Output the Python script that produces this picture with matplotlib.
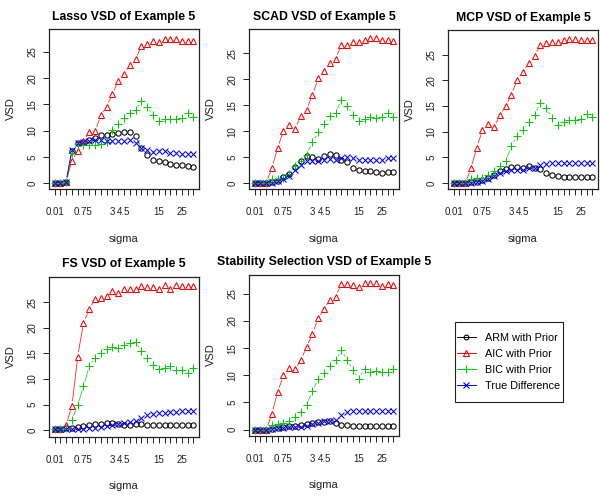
import numpy as np
import matplotlib
matplotlib.use("Agg")
import matplotlib.pyplot as plt
from matplotlib.lines import Line2D
from matplotlib.patches import Rectangle

plt.rcParams['font.family'] = ['Liberation Sans', 'DejaVu Sans']

sigma_idx = list(range(1, 26))
xtick_pos = [1, 6, 11, 13, 19, 23]
xtick_labels = ["0.01", "0.75", "3", "4.5", "15", "25"]
yticks = [0, 5, 10, 15, 20, 25]

series_names = ["ARM with Prior", "AIC with Prior", "BIC with Prior", "True Difference"]

lasso_arm = [0, 0, 0.2, 6.2, 7.7, 7.8, 8.3, 8.6, 9.2, 9.2, 9.3, 9.5, 9.7, 9.7, 9.0, 6.6, 5.4, 4.45, 4.2, 4.1, 3.7, 3.5, 3.4, 3.2, 3.0]
lasso_aic = [0, 0, 0.3, 4.3, 6.2, 8.0, 9.7, 9.9, 12.9, 14.6, 17.0, 19.5, 20.9, 22.5, 23.6, 26.2, 26.6, 27.1, 26.9, 27.4, 27.4, 27.4, 27.2, 27.2, 27.2]
lasso_bic = [0, 0, 0.3, 5.8, 7.4, 7.3, 7.2, 7.2, 7.5, 7.8, 10.1, 11.3, 12.4, 13.4, 13.9, 15.7, 14.6, 12.9, 11.8, 12.2, 12.2, 12.2, 12.4, 13.3, 12.6]
lasso_true = [0, 0, 0.3, 6.3, 7.7, 7.9, 8.1, 8.2, 8.2, 8.0, 8.0, 8.0, 8.1, 8.2, 7.6, 6.7, 6.3, 6.0, 6.1, 6.1, 5.8, 5.7, 5.6, 5.6, 5.6]

scad_arm = [0, 0, 0, 0.2, 0.4, 1.2, 1.8, 3.1, 4.2, 5.2, 5.0, 4.7, 5.2, 5.6, 5.4, 4.5, 4.0, 2.9, 2.6, 2.4, 2.3, 2.1, 2.0, 2.2, 2.1]
scad_aic = [0, 0, 0, 2.9, 6.8, 10.1, 11.1, 10.5, 12.9, 14.1, 17.0, 20.2, 21.6, 23.1, 24.0, 26.6, 26.6, 27.1, 27.1, 27.6, 27.9, 27.9, 27.6, 27.6, 27.4]
scad_bic = [0, 0, 0, 0.7, 0.7, 1.0, 1.7, 3.3, 4.2, 5.5, 7.9, 9.8, 11.3, 12.9, 13.6, 16.0, 14.9, 13.2, 11.9, 12.3, 12.7, 12.5, 12.7, 13.5, 12.7]
scad_true = [0, 0, 0, 0.1, 0.3, 0.8, 1.4, 2.6, 3.5, 4.2, 4.2, 4.2, 4.5, 4.7, 4.5, 4.9, 5.0, 4.9, 4.5, 4.5, 4.5, 4.5, 4.5, 4.9, 4.9]

mcp_arm = [0, 0, 0, 0.2, 0.3, 0.6, 1.0, 1.6, 2.3, 2.8, 3.1, 3.1, 3.0, 3.3, 2.85, 2.65, 1.9, 1.55, 1.35, 1.2, 1.15, 1.1, 1.1, 1.1, 1.1]
mcp_aic = [0, 0, 0, 2.85, 6.9, 10.3, 11.5, 10.9, 13.2, 15.0, 17.2, 20.1, 21.7, 23.3, 24.8, 26.9, 27.3, 27.5, 27.5, 27.8, 28.1, 28.0, 27.8, 27.9, 27.8]
mcp_bic = [0, 0, 0, 0.7, 0.9, 1.0, 1.6, 2.3, 3.3, 4.3, 7.2, 9.1, 10.3, 11.9, 13.3, 15.6, 14.6, 12.7, 11.4, 11.9, 12.2, 12.2, 12.4, 13.5, 12.8]
mcp_true = [0, 0, 0, 0.1, 0.2, 0.4, 0.8, 1.3, 1.9, 2.3, 2.5, 2.5, 2.6, 3.0, 2.9, 3.5, 3.7, 3.95, 3.95, 3.95, 3.95, 3.95, 3.95, 3.95, 3.95]

fs_arm = [0.2, 0.2, 0.4, 0.5, 0.6, 0.9, 1.0, 1.15, 1.2, 1.35, 1.35, 1.3, 1.0, 1.1, 1.2, 1.2, 1.1, 1.1, 1.1, 1.1, 1.1, 1.1, 1.1, 1.1, 1.1]
fs_aic = [0.25, 0.25, 1.0, 4.8, 14.4, 21.0, 23.6, 25.6, 25.8, 26.2, 27.1, 26.8, 27.6, 27.6, 27.6, 28.1, 28.0, 28.0, 27.6, 28.3, 27.6, 28.3, 28.1, 28.1, 28.1]
fs_bic = [0.2, 0.2, 0.5, 2.0, 4.9, 8.6, 12.5, 14.2, 15.0, 15.85, 16.2, 16.0, 16.7, 17.0, 17.3, 15.5, 14.2, 12.8, 12.0, 12.1, 12.6, 11.7, 11.7, 11.2, 12.1]
fs_true = [0.2, 0.2, 0.3, 0.3, 0.3, 0.3, 0.4, 0.5, 0.7, 0.8, 1.0, 1.15, 1.5, 1.7, 1.8, 2.5, 3.0, 3.15, 3.3, 3.4, 3.5, 3.6, 3.75, 3.75, 3.8]

stab_arm = [0, 0, 0, 0.1, 0.3, 0.4, 0.6, 0.7, 0.9, 1.1, 1.2, 1.35, 1.45, 1.5, 1.2, 0.9, 0.8, 0.7, 0.7, 0.7, 0.7, 0.7, 0.7, 0.7, 0.7]
stab_aic = [0, 0, 0, 2.9, 6.95, 10.0, 11.3, 11.1, 12.9, 15.2, 17.7, 20.5, 22.3, 23.9, 24.5, 26.8, 26.8, 26.6, 26.3, 27.0, 27.1, 27.0, 26.5, 26.8, 26.6]
stab_bic = [0, 0, 0, 0.85, 1.0, 1.2, 1.5, 2.25, 3.3, 4.6, 7.1, 9.4, 10.4, 11.7, 12.8, 14.6, 12.8, 11.0, 9.4, 11.2, 10.6, 10.8, 10.7, 10.7, 11.1]
stab_true = [0, 0, 0, 0.1, 0.2, 0.3, 0.4, 0.4, 0.5, 0.7, 1.0, 1.2, 1.5, 1.65, 1.8, 2.7, 3.2, 3.35, 3.35, 3.35, 3.35, 3.35, 3.35, 3.35, 3.35]

titles = ["Lasso VSD of Example 5", "SCAD VSD of Example 5", "MCP VSD of Example 5",
          "FS VSD of Example 5", "Stability Selection VSD of Example 5"]
panel_data = [
    (lasso_arm, lasso_aic, lasso_bic, lasso_true),
    (scad_arm, scad_aic, scad_bic, scad_true),
    (mcp_arm, mcp_aic, mcp_bic, mcp_true),
    (fs_arm, fs_aic, fs_bic, fs_true),
    (stab_arm, stab_aic, stab_bic, stab_true),
]

W, H = 600, 499
# panel boxes in pixels: left, top, right, bottom
boxes = [(49, 29, 199, 189), (249, 29, 399, 189), (448, 30, 598, 189),
         (49, 276.5, 199, 436.5), (249, 274.5, 399, 435.5)]
ylims = [(-1.13, 29.4), (-1.15, 29.7), (-1.15, 29.8), (-1.2, 30.0), (-1.1, 28.6)]

colors = ["#000000", "#FF0000", "#00CD00", "#0000FF"]
markers = ["o", "^", "+", "x"]
msizes = [3.8, 4.6, 6.0, 4.2]

fig = plt.figure(figsize=(W / 100, H / 100), dpi=100)

def gap_lines(ax, xs, ys, color, gap=4.5):
    pts = ax.transData.transform(np.column_stack([xs, ys]))
    inv = ax.transData.inverted()
    for i in range(len(pts) - 1):
        p0, p1 = pts[i], pts[i + 1]
        d = p1 - p0
        L = np.hypot(*d)
        if L <= 2 * gap + 1:
            continue
        u = d / L
        a = inv.transform(p0 + u * gap)
        b = inv.transform(p1 - u * gap)
        ax.plot([a[0], b[0]], [a[1], b[1]], color=color, lw=0.6, zorder=2,
                solid_capstyle='butt', alpha=0.85)

for k, (title, data) in enumerate(zip(titles, panel_data)):
    l, t, r, b = boxes[k]
    ax = fig.add_axes([l / W, 1 - b / H, (r - l) / W, (b - t) / H])
    ax.set_xlim(0.04, 25.96)
    ax.set_ylim(*ylims[k])
    for j, ys in enumerate(data):
        gap_lines(ax, sigma_idx, ys, colors[j])
        ax.plot(sigma_idx, ys, linestyle='none', marker=markers[j], ms=msizes[j],
                mfc='none', mec=colors[j], mew=0.75, zorder=3)
    ax.set_xticks(sigma_idx)
    ax.set_xticklabels([xtick_labels[xtick_pos.index(i)] if i in xtick_pos else "" for i in sigma_idx])
    ax.set_yticks(yticks)
    ax.set_yticklabels([str(v) for v in yticks], rotation=90, va='center')
    ax.tick_params(axis='both', direction='out', length=4.5, width=0.7, labelsize=7.0,
                   color='#222222', labelcolor='#222222')
    ax.tick_params(axis='x', pad=8.5)
    ax.tick_params(axis='y', pad=4.0)
    for s in ax.spines.values():
        s.set_linewidth(0.9)
        s.set_color('#222222')
    ax.set_title(title, fontsize=8.8, fontweight='bold', pad=6.5)
    ax.set_xlabel("sigma", fontsize=8, labelpad=12, color='#222222')
    ax.set_ylabel("VSD", fontsize=8, labelpad=8, color='#222222')

# legend
fig.patches.append(Rectangle((455 / W, 1 - 402 / H), 108 / W, 80 / H, transform=fig.transFigure,
                             fill=False, edgecolor='#222222', lw=0.8))
handles = [Line2D([], [], color=colors[j], lw=0.7, marker=markers[j], ms=msizes[j] * 0.9,
                  mfc='none', mec=colors[j], mew=0.8) for j in range(4)]
fig.legend(handles, series_names, loc='upper left', bbox_to_anchor=(457 / W, 1 - 333 / H),
           frameon=False, fontsize=7.8, borderpad=0, borderaxespad=0, handlelength=1.75,
           handletextpad=0.85, labelspacing=0.55)

fig.savefig("out.png", dpi=100)
